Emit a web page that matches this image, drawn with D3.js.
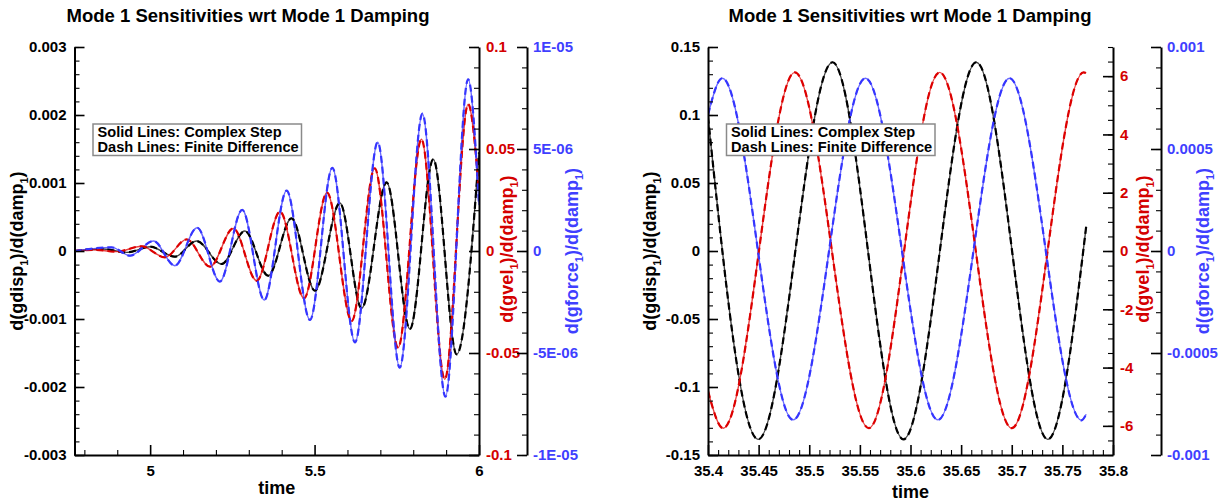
<!DOCTYPE html>
<html><head><meta charset="utf-8">
<script src="https://cdn.jsdelivr.net/npm/d3@7"></script>
<style>
body{margin:0;background:#fff}
text{font-family:"Liberation Sans",Arial,Helvetica,sans-serif;font-weight:bold}
</style></head>
<body><svg id="c" width="1225" height="501"></svg>
<script>
// ---------- text ----------
const chartTitle = "Mode 1 Sensitivities wrt Mode 1 Damping";
const legendLines = ["Solid Lines: Complex Step", "Dash Lines: Finite Difference"];
const xTitle = "time";

// ---------- left panel data (t = 4.77 .. 6) ----------
const leftXDomain = [4.77, 6];
const leftXTicks = [5, 5.5, 6];
const leftXMinor = [4.8, 4.9, 5.1, 5.2, 5.3, 5.4, 5.6, 5.7, 5.8, 5.9];
const leftDispTicks = [-0.003, -0.002, -0.001, 0, 0.001, 0.002, 0.003];
const leftDispLabels = ["-0.003", "-0.002", "-0.001", "0", "0.001", "0.002", "0.003"];
const leftVelTicks = [-0.1, -0.05, 0, 0.05, 0.1];
const leftVelLabels = ["-0.1", "-0.05", "0", "0.05", "0.1"];
const leftForceTicks = [-1e-5, -5e-6, 0, 5e-6, 1e-5];
const leftForceLabels = ["-1E-05", "-5E-06", "0", "5E-06", "1E-05"];

const leftDispTime = [4.77, 4.858, 4.929, 5.0, 5.075, 5.141, 5.217, 5.288, 5.359, 5.430, 5.501, 5.577, 5.643, 5.719, 5.790, 5.861, 5.932, 6.0];
const leftDispValue = [0, 0.00003, -0.00002, 0.000063, -0.000084, 0.000147, -0.000191, 0.000294, -0.000363, 0.000481, -0.000584, 0.000706, -0.000843, 0.00101, -0.001147, 0.001349, -0.001519, 0.00145];

const leftVelTime = [4.77, 4.827, 4.898, 4.974, 5.045, 5.111, 5.182, 5.253, 5.324, 5.395, 5.468, 5.538, 5.613, 5.683, 5.754, 5.825, 5.896, 5.967, 6.0];
const leftVelValue = [0, 0.0006, -0.0003, 0.0023, -0.0031, 0.0057, -0.0077, 0.0111, -0.0146, 0.0193, -0.0232, 0.0286, -0.0343, 0.0405, -0.0474, 0.0548, -0.0629, 0.0719, 0.0294];

const leftForceTime = [4.77, 4.883, 4.939, 5.010, 5.075, 5.143, 5.212, 5.280, 5.347, 5.415, 5.486, 5.554, 5.623, 5.692, 5.759, 5.828, 5.898, 5.967, 6.0];
const leftForceValue = [0, 1.8e-7, -2.3e-7, 4.9e-7, -7.2e-7, 1.14e-6, -1.50e-6, 2.02e-6, -2.40e-6, 2.96e-6, -3.38e-6, 4.08e-6, -4.48e-6, 5.33e-6, -5.72e-6, 6.73e-6, -7.14e-6, 8.42e-6, 2.25e-6];

// ---------- right panel data (t = 35.4 .. 35.8) ----------
const rightXDomain = [35.4, 35.8];
const rightXTicks = [35.4, 35.45, 35.5, 35.55, 35.6, 35.65, 35.7, 35.75, 35.8];
const rightXMinor = [35.41,35.42,35.43,35.44,35.46,35.47,35.48,35.49,35.51,35.52,35.53,35.54,35.56,35.57,35.58,35.59,35.61,35.62,35.63,35.64,35.66,35.67,35.68,35.69,35.71,35.72,35.73,35.74,35.76,35.77,35.78,35.79];
const rightDispTicks = [-0.15, -0.1, -0.05, 0, 0.05, 0.1, 0.15];
const rightDispLabels = ["-0.15", "-0.1", "-0.05", "0", "0.05", "0.1", "0.15"];
const rightVelTicks = [-6, -4, -2, 0, 2, 4, 6];
const rightVelLabels = ["-6", "-4", "-2", "0", "2", "4", "6"];
const rightForceTicks = [-0.001, -0.0005, 0, 0.0005, 0.001];
const rightForceLabels = ["-0.001", "-0.0005", "0", "0.0005", "0.001"];

const rightDispTime = [35.4, 35.4496, 35.523, 35.593, 35.665, 35.7356, 35.7735];
const rightDispValue = [0.0988, -0.1385, 0.1388, -0.1385, 0.1388, -0.1385, 0.0179];

const rightVelTime = [35.4, 35.415, 35.4858, 35.5588, 35.6288, 35.700, 35.771, 35.7735];
const rightVelValue = [-4.8, -6.08, 6.13, -6.08, 6.13, -6.08, 6.13, 6.1];

const rightForceTime = [35.4, 35.4141, 35.4841, 35.5555, 35.6271, 35.6978, 35.769, 35.7735];
const rightForceValue = [0.000667, 0.000847, -0.000828, 0.000847, -0.000828, 0.000847, -0.00083, -0.0008];

// ---------- drawing ----------
const RED = "#dd0000", BLUE = "#3535ff", RED_T = "#d40000", BLUE_T = "#3f3fff";
const svg = d3.select("#c");

function minorRange(domain, step){
  const out=[]; const n=Math.round((domain[1]-domain[0])/step);
  for(let i=0;i<=n;i++){ out.push(+(domain[0]+i*step).toFixed(8)); }
  return out;
}

function rotLabel(g, x, y, main, color){
  const t = g.append("text").attr("transform", `translate(${x},${y}) rotate(-90)`)
    .attr("text-anchor","middle").attr("fill",color).style("font-size","18px").attr("dy","0.35em");
  t.append("tspan").text(main[0]);
  t.append("tspan").text(main[1]).style("font-size","11px").attr("dy", 5);
  t.append("tspan").text(main[2]).attr("dy", -5);
  t.append("tspan").text(main[3]).style("font-size","11px").attr("dy", 5);
  t.append("tspan").text(main[4]).attr("dy", -5);
}

function panel(c){
  const g = svg.append("g");
  const x = d3.scaleLinear().domain(c.xDomain).range(c.xRange);
  const yD = d3.scaleLinear().domain(c.dispDomain).range([455, 47]);
  const yV = d3.scaleLinear().domain(c.velDomain).range([455, 47]);
  const yF = d3.scaleLinear().domain(c.forceDomain).range([455, 47]);

  g.append("text").attr("x", c.titleX).attr("y", 22).attr("text-anchor","middle")
    .style("font-size","18.5px").text(chartTitle);

  const cid = "clip"+c.id;
  svg.append("defs").append("clipPath").attr("id",cid).append("rect")
    .attr("x", c.xRange[0]).attr("y", 47).attr("width", c.xRange[1]-c.xRange[0]).attr("height", 408);

  const series = [
    {t:c.dispTime, v:c.dispValue, y:yD, color:"#000"},
    {t:c.velTime, v:c.velValue, y:yV, color:RED},
    {t:c.forceTime, v:c.forceValue, y:yF, color:BLUE}
  ];
  const lines = g.append("g").attr("clip-path", `url(#${cid})`);
  series.forEach(s=>{
    const line = d3.line().x(d=>x(d[0])).y(d=>s.y(d[1])).curve(d3.curveMonotoneX);
    lines.append("path").datum(d3.zip(s.t, s.v)).attr("d", line)
      .attr("fill","none").attr("stroke", s.color).attr("stroke-width",1.4).attr("stroke-opacity",0.75);
  });
  series.forEach(s=>{
    const line = d3.line().x(d=>x(d[0])).y(d=>s.y(d[1])).curve(d3.curveMonotoneX);
    lines.append("path").datum(d3.zip(s.t, s.v)).attr("d", line)
      .attr("fill","none").attr("stroke", s.color).attr("stroke-width",2.2)
      .attr("stroke-dasharray","7,4");
  });

  function styleAxis(sel, color){
    sel.selectAll(".domain").attr("stroke","#000").attr("stroke-width",2);
    sel.selectAll(".tick line").attr("stroke","#000").attr("stroke-width",1.6);
    sel.selectAll(".tick text").attr("fill",color).style("font-size","15px")
      .style("font-family",'"Liberation Sans",Arial,sans-serif').style("font-weight","bold");
  }
  function minorAxis(sel){ sel.select(".domain").remove(); sel.selectAll(".tick line").attr("stroke","#000").attr("stroke-width",1.1); }

  const gx = g.append("g").attr("transform","translate(0,455)");
  gx.call(d3.axisBottom(x).tickValues(c.xMinor).tickSize(-5).tickFormat("")).call(minorAxis);
  gx.append("g").call(d3.axisBottom(x).tickValues(c.xTicks).tickSize(-10).tickSizeOuter(0).tickPadding(10)
     .tickFormat((d,i)=>c.xLabels[i])).call(s=>styleAxis(s,"#000"));

  const gl = g.append("g").attr("transform",`translate(${c.xRange[0]},0)`);
  gl.call(d3.axisLeft(yD).tickValues(minorRange(c.dispDomain, c.dispMinor)).tickSize(-5).tickFormat("")).call(minorAxis);
  gl.append("g").call(d3.axisLeft(yD).tickValues(c.dispTicks).tickSize(-10).tickSizeOuter(0).tickPadding(8)
     .tickFormat((d,i)=>c.dispLabels[i])).call(s=>styleAxis(s,"#000"));

  const gr = g.append("g").attr("transform",`translate(${c.velX},0)`);
  gr.call(d3.axisRight(yV).tickValues(minorRange(c.velDomain, c.velMinor)).tickSize(-5).tickFormat("")).call(minorAxis);
  gr.append("g").call(d3.axisRight(yV).tickValues(c.velTicks).tickSize(-10).tickSizeOuter(0).tickPadding(7)
     .tickFormat((d,i)=>c.velLabels[i])).call(s=>styleAxis(s,RED_T));

  const gb = g.append("g").attr("transform",`translate(${c.forceX},0)`);
  gb.call(d3.axisRight(yF).tickValues(minorRange(c.forceDomain, c.forceMinor)).tickSize(-5).tickFormat("")).call(minorAxis);
  gb.append("g").call(d3.axisRight(yF).tickValues(c.forceTicks).tickSize(-10).tickSizeOuter(0).tickPadding(6)
     .tickFormat((d,i)=>c.forceLabels[i])).call(s=>styleAxis(s,BLUE_T));

  g.append("text").attr("x", (c.xRange[0]+c.xRange[1])/2).attr("y", c.timeY).attr("text-anchor","middle")
    .style("font-size","18px").text(xTitle);
  rotLabel(g, c.dispLabelX, 251, ["d(gdisp","1",")/d(damp","1",")"], "#000");
  rotLabel(g, c.velLabelX, 249, ["d(gvel","1",")/d(damp","1",")"], RED_T);
  rotLabel(g, c.forceLabelX, 251, ["d(gforce","1",")/d(damp","1",")"], BLUE_T);

  const lx = c.xRange[0]+18.5, ly = 124;
  g.append("rect").attr("x",lx).attr("y",ly).attr("width",208.5).attr("height",31.5)
    .attr("fill","#fff").attr("stroke","#8a8a8a").attr("stroke-width",1.5);
  legendLines.forEach((t,i)=>{
    g.append("text").attr("x",lx+4.5).attr("y",ly+13.4+i*14.4).style("font-size","14.6px").text(t);
  });
}

panel({
  id:"L", xDomain:leftXDomain, xRange:[74.5,479], xTicks:leftXTicks, xLabels:["5","5.5","6"], xMinor:leftXMinor,
  dispDomain:[-0.003,0.003], dispTicks:leftDispTicks, dispLabels:leftDispLabels, dispMinor:0.0002,
  velDomain:[-0.1,0.1], velTicks:leftVelTicks, velLabels:leftVelLabels, velMinor:0.01,
  forceDomain:[-1e-5,1e-5], forceTicks:leftForceTicks, forceLabels:leftForceLabels, forceMinor:1e-6,
  velX:479, forceX:527, titleX:248, timeY:494, dispLabelX:17, velLabelX:507, forceLabelX:572,
  dispTime:leftDispTime, dispValue:leftDispValue, velTime:leftVelTime, velValue:leftVelValue,
  forceTime:leftForceTime, forceValue:leftForceValue
});

panel({
  id:"R", xDomain:rightXDomain, xRange:[708,1113], xTicks:rightXTicks,
  xLabels:["35.4","35.45","35.5","35.55","35.6","35.65","35.7","35.75","35.8"], xMinor:rightXMinor,
  dispDomain:[-0.15,0.15], dispTicks:rightDispTicks, dispLabels:rightDispLabels, dispMinor:0.01,
  velDomain:[-7,7], velTicks:rightVelTicks, velLabels:rightVelLabels, velMinor:0.5,
  forceDomain:[-0.001,0.001], forceTicks:rightForceTicks, forceLabels:rightForceLabels, forceMinor:0.0001,
  velX:1113, forceX:1161, titleX:910, timeY:498, dispLabelX:650, velLabelX:1143, forceLabelX:1203,
  dispTime:rightDispTime, dispValue:rightDispValue, velTime:rightVelTime, velValue:rightVelValue,
  forceTime:rightForceTime, forceValue:rightForceValue
});
</script></body></html>
